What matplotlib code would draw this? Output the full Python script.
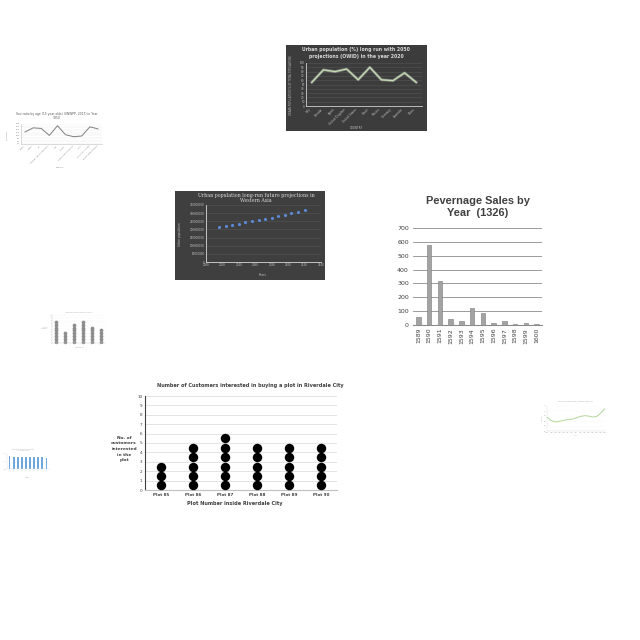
import matplotlib
matplotlib.use('Agg')
import matplotlib.pyplot as plt

# ---------------- data ----------------
# Chart A: urban population (dark, line)
urban_countries = ['Italy', 'Canada', 'Japan', 'United Kingdom', 'United States',
                   'Brazil', 'Mexico', 'Germany', 'Australia', 'China']
urban_pct = [55, 84, 80, 86, 61, 90, 61, 59, 77, 55]

# Chart B: sex ratio (small white line chart)
sex_countries = ['Chad', 'Cuba', 'Fiji', 'Central African Republic', 'Iraq',
                 'Kenya', 'Dominican Republic', 'Peru', 'Solomon Islands', 'Papua New Guinea']
sex_ratio = [102.4, 105.3, 104.9, 100.0, 106.8, 100.5, 99.1, 99.6, 106.0, 104.6]

# Chart C: Western Asia projections (dark, scatter)
wa_years = [2016, 2024, 2032, 2040, 2048, 2056, 2064, 2072, 2080, 2088, 2096, 2104, 2112, 2120]
wa_pop = [216e6, 222e6, 228e6, 236e6, 243e6, 250e6, 257e6, 264e6, 272e6, 280e6,
          289e6, 298e6, 308e6, 318e6]

# Chart D: Pevernage sales
pev_years = ['1589', '1590', '1591', '1592', '1593', '1594', '1595', '1596',
             '1597', '1598', '1599', '1600']
pev_sales = [55, 580, 319, 43, 31, 125, 89, 17, 31, 10, 12, 10]

# Chart E: tiny dot plot
tiny_cats = ['A', 'B', 'C', 'D', 'E', 'F']
tiny_counts = [8, 4, 7, 8, 6, 5]

# Chart F: Riverdale dot plot
plots = ['Plot 85', 'Plot 86', 'Plot 87', 'Plot 88', 'Plot 89', 'Plot 90']
customers = [3, 5, 6, 5, 5, 5]

# Chart G: tiny blue bar chart
blue_cats = ['A', 'B', 'C', 'D', 'E', 'F', 'G', 'H', 'I', 'J']
blue_vals = [0.85, 0.80, 0.80, 0.82, 0.80, 0.80, 0.78, 0.80, 0.82, 0.75]

# Chart H: tiny green line chart
green_x = [1950, 1955, 1960, 1965, 1970, 1975, 1980, 1985, 1990, 1995,
           2000, 2005, 2010, 2015, 2020]
green_y = [0.55, 0.42, 0.36, 0.38, 0.43, 0.45, 0.47, 0.52, 0.58, 0.61,
           0.60, 0.56, 0.58, 0.72, 0.90]

# ---------------- figure ----------------
W = H = 640
fig = plt.figure(figsize=(6.4, 6.4), dpi=100)
fig.patch.set_facecolor('white')


def px_axes(x0, y0, x1, y1, **kw):
    return fig.add_axes([x0 / W, 1 - y1 / H, (x1 - x0) / W, (y1 - y0) / H], **kw)


def px_text(x, y, s, **kw):
    fig.text(x / W, 1 - y / H, s, **kw)


def dark_bg(x0, y0, x1, y1, color):
    b = px_axes(x0, y0, x1, y1)
    b.set_zorder(-5)
    b.set_facecolor(color)
    b.set_xticks([])
    b.set_yticks([])
    for s in b.spines.values():
        s.set_visible(False)


# ---- Chart A ----
dark_bg(286, 45, 427, 131, '#3c3c3c')
ax = px_axes(306, 63, 422, 106)
ax.set_facecolor('none')
xa = list(range(len(urban_countries)))
ax.plot(xa, urban_pct, color='#ffffff', lw=2.0, alpha=0.35, zorder=2)
ax.plot(xa, urban_pct, color='#c5dfb0', lw=0.9, zorder=3)
ax.set_xlim(-0.5, len(urban_countries) - 0.5)
ax.set_ylim(0, 100)
ax.set_yticks(range(0, 101, 10))
ax.tick_params(axis='y', labelsize=2, colors='#bfbfbf', length=0, pad=1)
ax.set_xticks(xa)
ax.set_xticklabels(urban_countries, rotation=45, ha='right', fontsize=2, color='#bfbfbf')
ax.tick_params(axis='x', length=0, pad=1)
ax.grid(axis='y', color='#555555', lw=0.4)
for s in ['top', 'right']:
    ax.spines[s].set_visible(False)
ax.spines['left'].set_color('#d0d0d0')
ax.spines['bottom'].set_color('#d0d0d0')
ax.spines['left'].set_linewidth(0.6)
ax.spines['bottom'].set_linewidth(0.6)
px_text(356, 53, 'Urban population (%) long run with 2050\nprojections (OWID) in the year 2020',
        ha='center', va='center', fontsize=3.3, color='#d9d9d9', fontweight='bold',
        linespacing=1.3)
px_text(356, 128, 'COUNTRY', ha='center', va='center', fontsize=2, color='#bfbfbf')
px_text(291, 85, 'URBAN POPULATION (% OF TOTAL POPULATION)', ha='center', va='center',
        fontsize=1.8, color='#bfbfbf', rotation=90)

# ---- Chart B ----
ax = px_axes(21, 124, 102, 144)
xb = list(range(len(sex_countries)))
ax.plot(xb, sex_ratio, color='#7f7f7f', lw=0.7)
ax.set_xlim(-0.5, len(sex_countries) - 0.5)
ax.set_ylim(94, 108)
ax.set_yticks(range(94, 109, 2))
ax.tick_params(axis='y', labelsize=1.5, colors='#808080', length=0, pad=1)
ax.set_xticks(xb)
ax.set_xticklabels(sex_countries, rotation=45, ha='right', fontsize=1.5, color='#808080')
ax.tick_params(axis='x', length=0, pad=1)
ax.grid(axis='y', color='#e6e6e6', lw=0.3)
for s in ['top', 'right']:
    ax.spines[s].set_visible(False)
ax.spines['left'].set_color('#bfbfbf')
ax.spines['bottom'].set_color('#bfbfbf')
ax.spines['left'].set_linewidth(0.4)
ax.spines['bottom'].set_linewidth(0.4)
px_text(57, 116, 'Sex ratio by age (15 year olds) (UNWPP, 2017) in Year\n1950',
        ha='center', va='center', fontsize=2.2, color='#595959', linespacing=1.3)
px_text(60, 167, 'Country', ha='center', va='center', fontsize=1.5, color='#808080')
px_text(7, 135, 'Sex ratio', ha='center', va='center', fontsize=1.5, color='#808080',
        rotation=90)

# ---- Chart C ----
dark_bg(175, 191, 325, 280, '#3f3f3f')
ax = px_axes(206, 205, 321, 262)
ax.set_facecolor('none')
ax.scatter(wa_years, wa_pop, s=5, color='#5b8ad8', zorder=3, linewidths=0)
ax.set_xlim(2000, 2140)
ax.set_xticks(range(2000, 2141, 20))
ax.set_ylim(0, 350e6)
ax.set_yticks([i * 50e6 for i in range(8)])
ax.set_yticklabels(['0'] + [str(int(i * 50e6)) for i in range(1, 8)])
ax.tick_params(labelsize=2, colors='#bfbfbf', length=0, pad=1)
ax.grid(axis='y', color='#555555', lw=0.4)
for s in ['top', 'right']:
    ax.spines[s].set_visible(False)
ax.spines['left'].set_color('#d9d9d9')
ax.spines['bottom'].set_color('#d9d9d9')
ax.spines['left'].set_linewidth(0.6)
ax.spines['bottom'].set_linewidth(0.6)
px_text(256, 198, 'Urban population long-run future projections in\nWestern Asia',
        ha='center', va='center', fontsize=3.4, color='#d9d9d9', family='DejaVu Serif',
        linespacing=1.2)
px_text(262, 275, 'Years', ha='center', va='center', fontsize=2.2, color='#bfbfbf')
px_text(180, 234, 'Urban population', ha='center', va='center', fontsize=2,
        color='#bfbfbf', rotation=90)

# ---- Chart D ----
ax = px_axes(413, 228, 542, 325)
xd = list(range(len(pev_years)))
ax.bar(xd, pev_sales, width=0.42, color='#a3a3a3', edgecolor='#7a7a7a', linewidth=0.4,
       zorder=3)
ax.set_xlim(-0.5, len(pev_years) - 0.5)
ax.set_ylim(0, 700)
ax.set_yticks(range(0, 701, 100))
ax.tick_params(axis='y', labelsize=4.5, colors='#404040', length=0, pad=3)
ax.set_xticks(xd)
ax.set_xticklabels(pev_years, rotation=90, fontsize=4.5, color='#404040')
ax.tick_params(axis='x', length=0, pad=2)
ax.grid(axis='y', color='#8c8c8c', lw=0.6, zorder=0)
for s in ['top', 'right', 'left']:
    ax.spines[s].set_visible(False)
ax.spines['bottom'].set_color('#8c8c8c')
ax.set_title('Pevernage Sales by\nYear  (1326)', fontsize=7.9, fontweight='bold',
             color='#404040', family='Liberation Sans', pad=9, linespacing=1.15)

# ---- Chart E ----
ax = px_axes(52, 315, 105, 343)
for i, c in enumerate(tiny_counts):
    ax.plot([i] * c, [k + 0.5 for k in range(c)], 'o', ms=2.7, color='#8c8c8c',
            markeredgewidth=0)
ax.set_xlim(-0.5, len(tiny_cats) - 0.5)
ax.set_ylim(0, 10)
ax.set_xticks(range(len(tiny_cats)))
ax.set_xticklabels(tiny_cats, fontsize=1.2, color='#a6a6a6')
ax.set_yticks(range(0, 11))
ax.tick_params(labelsize=1.0, colors='#a6a6a6', length=0, pad=0.5)
ax.grid(axis='y', color='#f2f2f2', lw=0.2)
for s in ['top', 'right']:
    ax.spines[s].set_visible(False)
ax.spines['left'].set_color('#d0d0d0')
ax.spines['bottom'].set_color('#d0d0d0')
ax.spines['left'].set_linewidth(0.3)
ax.spines['bottom'].set_linewidth(0.3)
px_text(79, 312, 'Number of Customers interested', ha='center', va='center', fontsize=1.2,
        color='#a6a6a6')
px_text(45, 328, 'No. of\ncustomers', ha='center', va='center', fontsize=1.0,
        color='#a6a6a6')
px_text(79, 347, 'Plot Number', ha='center', va='center', fontsize=1.0, color='#a6a6a6')

# ---- Chart F ----
ax = px_axes(145, 396, 337, 490)
for i, c in enumerate(customers):
    ax.plot([i] * c, [k + 0.5 for k in range(c)], 'o', ms=6.8, color='black',
            markeredgewidth=0, zorder=3)
ax.set_xlim(-0.5, len(plots) - 0.5)
ax.set_ylim(0, 10)
ax.set_yticks(range(0, 11))
ax.set_xticks(range(len(plots)))
ax.set_xticklabels(plots, fontsize=3, fontweight='bold', color='#404040')
ax.tick_params(axis='y', labelsize=3, colors='#404040', length=0, pad=2)
ax.tick_params(axis='x', length=0, pad=2)
ax.grid(axis='y', color='#d9d9d9', lw=0.5, zorder=0)
for s in ['top', 'right']:
    ax.spines[s].set_visible(False)
ax.spines['left'].set_color('#404040')
ax.spines['bottom'].set_color('#bfbfbf')
ax.spines['left'].set_linewidth(0.8)
px_text(250, 386, 'Number of Customers interested in buying a plot in Riverdale City',
        ha='center', va='center', fontsize=3.6, fontweight='bold', color='#404040')
px_text(235, 504, 'Plot Number inside Riverdale City', ha='center', va='center',
        fontsize=3.6, fontweight='bold', color='#404040')
px_text(124, 449, 'No. of\ncustomers\ninterested\nin the\nplot', ha='center', va='center',
        fontsize=3.2, fontweight='bold', color='#404040', linespacing=1.5)

# ---- Chart G ----
ax = px_axes(7, 454, 49, 469)
xg = list(range(len(blue_cats)))
ax.bar(xg, blue_vals, width=0.45, color='#6fa8dc')
ax.set_xlim(-0.6, len(blue_cats) - 0.4)
ax.set_ylim(0, 1)
ax.set_xticks(xg)
ax.set_xticklabels(blue_cats, rotation=45, fontsize=1.0, color='#a6a6a6')
ax.set_yticks([0, 0.5, 1])
ax.tick_params(labelsize=1.0, colors='#a6a6a6', length=0, pad=0.5)
for s in ['top', 'right']:
    ax.spines[s].set_visible(False)
ax.spines['left'].set_color('#d9d9d9')
ax.spines['bottom'].set_color('#d9d9d9')
ax.spines['left'].set_linewidth(0.3)
ax.spines['bottom'].set_linewidth(0.3)
px_text(23, 450, 'Sex ratio at birth by region\nin the year 2015', ha='center',
        va='center', fontsize=1.2, color='#a6a6a6')
px_text(27, 477, 'Region', ha='center', va='center', fontsize=1.0, color='#a6a6a6')

# ---- Chart H ----
ax = px_axes(547, 406, 605, 431)
ax.plot(green_x, green_y, color='#a9d18e', lw=0.6)
ax.set_xlim(1950, 2020)
ax.set_ylim(0, 1)
ax.set_xticks(green_x)
ax.tick_params(labelsize=1.0, colors='#a6a6a6', length=0, pad=0.5)
ax.set_yticks([0, 0.2, 0.4, 0.6, 0.8, 1.0])
ax.grid(axis='y', color='#f2f2f2', lw=0.2)
for s in ['top', 'right']:
    ax.spines[s].set_visible(False)
ax.spines['left'].set_color('#d9d9d9')
ax.spines['bottom'].set_color('#d9d9d9')
ax.spines['left'].set_linewidth(0.3)
ax.spines['bottom'].set_linewidth(0.3)
px_text(576, 401, 'Sex ratio by age group (UNWPP) in the year', ha='center',
        va='center', fontsize=1.2, color='#a6a6a6')
px_text(576, 435, 'Year', ha='center', va='center', fontsize=1.0, color='#a6a6a6')
px_text(542, 418, 'Sex ratio', ha='center', va='center', fontsize=1.0, color='#a6a6a6',
        rotation=90)

fig.savefig('out.png', dpi=100, facecolor='white')
